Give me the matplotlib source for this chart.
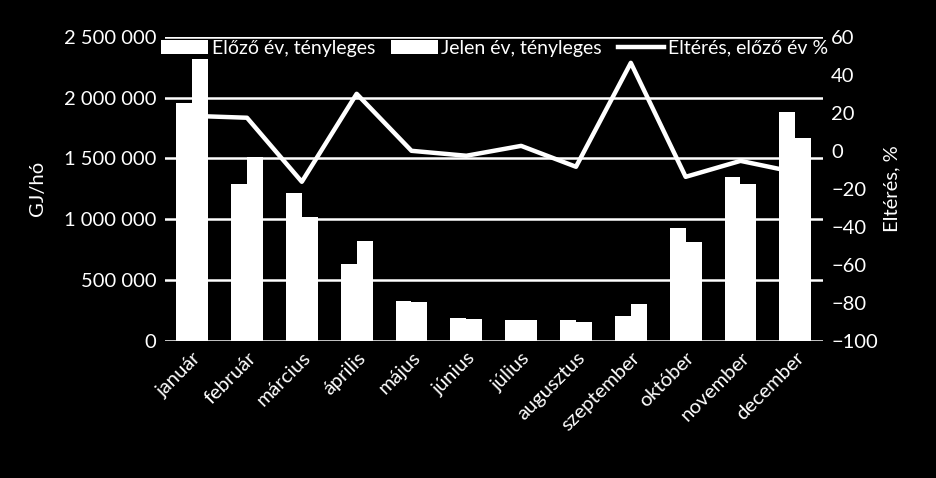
import numpy as np
import matplotlib.pyplot as plt
from matplotlib.ticker import FuncFormatter

plt.rcParams['font.family'] = ['Lato', 'DejaVu Sans']

honapok = ['január', 'február', 'március', 'április', 'május', 'június',
           'július', 'augusztus', 'szeptember', 'október', 'november', 'december']
elozo_ev = [1957000, 1291000, 1217000, 633000, 325000, 189000,
            172000, 172000, 205000, 929000, 1349000, 1883000]
jelen_ev = [2319000, 1513000, 1020000, 822000, 322000, 180000,
            172000, 156000, 304000, 814000, 1291000, 1670000]
elteres = [18.4, 17.4, -16.3, 30.0, 0.0, -2.6,
           2.6, -8.4, 46.3, -13.7, -5.3, -11.3]

fg = 'white'
bg = 'black'

fig = plt.figure(figsize=(9.36, 4.78), dpi=100, facecolor=bg)
ax = fig.add_axes([0.176, 0.287, 0.703, 0.636])
ax.set_facecolor(bg)
ax2 = ax.twinx()

x = np.arange(len(honapok))
w = 0.29
ax.bar(x - w / 2, elozo_ev, w, color=fg, label='Előző év, tényleges', zorder=3)
ax.bar(x + w / 2, jelen_ev, w, color=fg, label='Jelen év, tényleges', zorder=3)
ax2.plot(x, elteres, color=fg, lw=3.2, label='Eltérés, előző év %', zorder=4)

ax.set_xlim(-0.5, 11.5)
ax.set_ylim(0, 2500000)
ax.set_yticks(np.arange(0, 2500001, 500000))
ax.yaxis.set_major_formatter(FuncFormatter(lambda v, p: f'{int(v):,}'.replace(',', ' ')))
ax.grid(axis='y', color=fg, lw=1.8, zorder=1)
ax.set_axisbelow(True)
ax2.set_ylim(-100, 60)
ax2.set_yticks(np.arange(-100, 61, 20))

ax.set_xticks(x)
ax.set_xticklabels(honapok, rotation=45, ha='right', rotation_mode='anchor')
for a in (ax, ax2):
    for s in a.spines.values():
        s.set_visible(False)
    a.tick_params(colors=fg, labelsize=14.5, length=0, pad=6)

ax.set_ylabel('GJ/hó', color=fg, fontsize=14.5, labelpad=13)
ax2.set_ylabel('Eltérés, %', color=fg, fontsize=14.5, labelpad=4)

h1, l1 = ax.get_legend_handles_labels()
h2, l2 = ax2.get_legend_handles_labels()
leg = ax2.legend(h1 + h2, l1 + l2, ncol=3, loc='upper left', bbox_to_anchor=(-0.005, 0.99),
                 frameon=False, fontsize=14, handlelength=2.4, handletextpad=0.2,
                 columnspacing=0.8, borderpad=0.0, borderaxespad=0.0)
for t in leg.get_texts():
    t.set_color(fg)

fig.savefig('out.png', dpi=100, facecolor=bg)
